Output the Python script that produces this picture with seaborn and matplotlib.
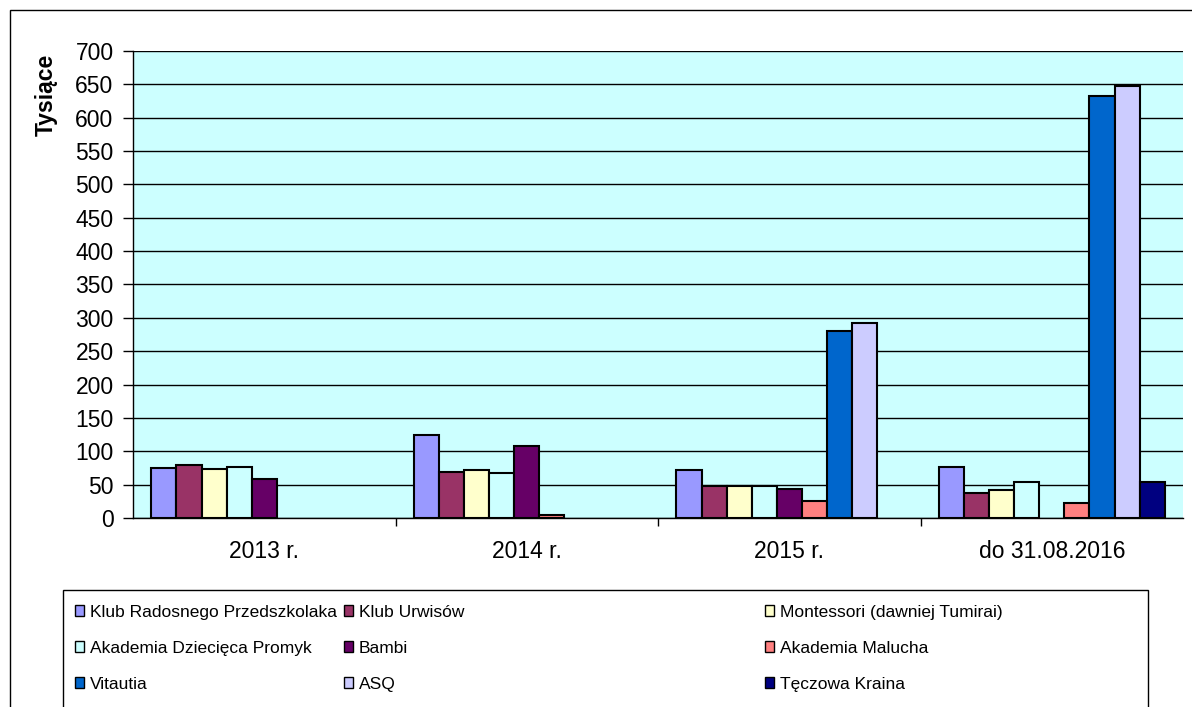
import numpy as np
import pandas as pd
import matplotlib
matplotlib.use("Agg")
import matplotlib.pyplot as plt
import seaborn as sns
from matplotlib.patches import Patch, Rectangle

# data (thousands)
periods = ["2013 r.", "2014 r.", "2015 r.", "do 31.08.2016"]
series = ["Klub Radosnego Przedszkolaka", "Klub Urwisów", "Montessori (dawniej Tumirai)",
          "Akademia Dziecięca Promyk", "Bambi", "Akademia Malucha",
          "Vitautia", "ASQ", "Tęczowa Kraina"]
krp = [75, 124, 71.5, 77]
urwisow = [80, 69, 48.5, 38]
montessori = [74, 71.5, 48.5, 42.5]
promyk = [77, 67, 48, 53.5]
bambi = [58, 108, 43, np.nan]
malucha = [np.nan, 5, 25, 22]
vitautia = [np.nan, np.nan, 280, 633]
asq = [np.nan, np.nan, 293, 648]
teczowa = [np.nan, np.nan, np.nan, 53.5]
colors = ["#9999FF", "#993366", "#FFFFCC", "#CCFFFF", "#660066",
          "#FF8080", "#0066CC", "#CCCCFF", "#000080"]

values = [krp, urwisow, montessori, promyk, bambi, malucha, vitautia, asq, teczowa]
rows = []
for name, vals in zip(series, values):
    for p, v in zip(periods, vals):
        rows.append({"okres": p, "seria": name, "wartosc": v})
df = pd.DataFrame(rows)

sns.set_style("white")
plt.rcParams["font.family"] = ["Liberation Sans", "DejaVu Sans"]
plt.rcParams["text.color"] = "black"
plt.rcParams["xtick.color"] = "black"
plt.rcParams["ytick.color"] = "black"

fig = plt.figure(figsize=(11.92, 7.07), dpi=100)
ax = fig.add_axes([0.1116, 0.2673, 0.8809, 0.6606])
ax.set_facecolor("#CCFFFF")

sns.barplot(data=df, x="okres", y="wartosc", hue="seria", hue_order=series,
            order=periods, palette=colors, width=0.86, edgecolor="black",
            linewidth=1.5, saturation=1, legend=False, ax=ax, zorder=3)

ax.set_ylim(0, 700)
ax.set_yticks(np.arange(0, 701, 50))
ax.yaxis.grid(True, color="black", linewidth=1, zorder=0)
ax.set_axisbelow(True)
ax.set_xlim(-0.5, 3.5)
ax.set_xticks([0.5, 1.5, 2.5], minor=True)
ax.set_xticks(range(4))
ax.set_xticklabels(periods)
ax.tick_params(axis="x", which="major", length=0, labelsize=16.5, pad=16)
ax.tick_params(axis="x", which="minor", length=6, width=1, direction="out", bottom=True)
ax.tick_params(axis="y", length=7, width=1, direction="out", left=True, labelsize=16.5, pad=7)
ax.set_xlabel("")
ax.set_ylabel("")
for s in ["top", "right"]:
    ax.spines[s].set_visible(False)
for s in ["left", "bottom"]:
    ax.spines[s].set_color("black")
    ax.spines[s].set_linewidth(1)

fig.text(46 / 1192, 1 - 54 / 707, "Tysiące", rotation=90, ha="center", va="top",
         fontsize=16.5, fontweight="bold")

# chart border
fig.patches.append(Rectangle((10 / 1192, -0.01), 1.2, 1 - 10 / 707 + 0.01,
                             transform=fig.transFigure, fill=False,
                             edgecolor="black", linewidth=1))
# legend box
fig.patches.append(Rectangle((63 / 1192, -0.01), (1148 - 63) / 1192, 1 - 590 / 707 + 0.01,
                             transform=fig.transFigure, fill=False,
                             edgecolor="black", linewidth=1))

col_x = [68, 337, 758]
for c in range(3):
    idx = [c, c + 3, c + 6]
    handles = [Patch(facecolor=colors[i], edgecolor="black", linewidth=1) for i in idx]
    labels = [series[i] for i in idx]
    fig.legend(handles, labels, loc="upper left",
               bbox_to_anchor=(col_x[c] / 1192, 1 - 598 / 707),
               frameon=False, fontsize=12.5, handlelength=0.55, handleheight=0.6,
               handletextpad=0.3, labelspacing=1.2, borderaxespad=0)

fig.savefig("out.png", dpi=100)
